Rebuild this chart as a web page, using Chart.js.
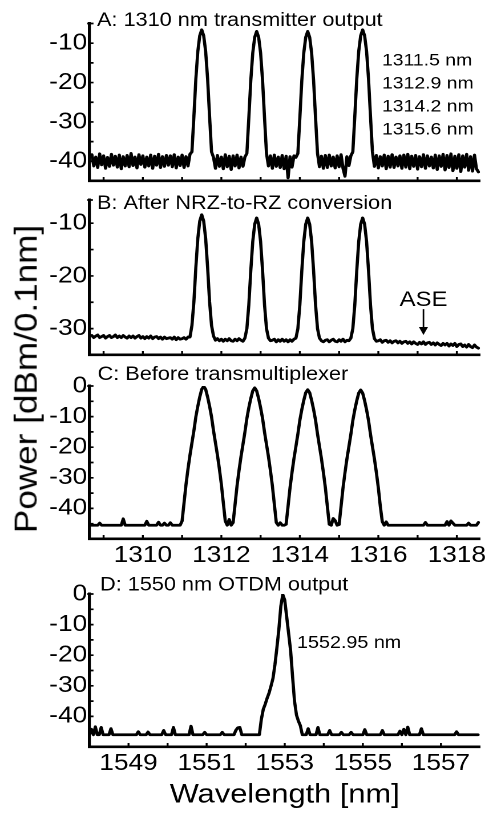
<!DOCTYPE html>
<html>
<head>
<meta charset="utf-8">
<script src="https://cdn.jsdelivr.net/npm/chart.js@4/dist/chart.umd.min.js"></script>
<style>
  html, body { margin: 0; padding: 0; background: #fff; overflow: hidden; }
  #figure {
    position: absolute; left: 0; top: 0; width: 425px; height: 815px;
    transform: scaleX(1.1412); transform-origin: 0 0;
    font-family: 'Liberation Sans', Arial, sans-serif; color: #000;
  }
  .panel { position: absolute; left: 0; width: 425px; }
  #yTitle {
    position: absolute; left: 23.7px; top: 379px; font-size: 27px; white-space: nowrap;
    transform: translate(-50%, -50%) rotate(-90deg) scaleX(1.3);
  }
</style>
</head>
<body>
<div id="figure">
  <div class="panel" style="top:0px;height:189px"><canvas id="panelA"></canvas></div>
  <div class="panel" style="top:180px;height:183px"><canvas id="panelB"></canvas></div>
  <div class="panel" style="top:350px;height:229px"><canvas id="panelC"></canvas></div>
  <div class="panel" style="top:560px;height:255px"><canvas id="panelD"></canvas></div>
  <div id="yTitle">Power [dBm/0.1nm]</div>
</div>
<script>
// ---- Optical spectrum analyser sweeps (0.05 nm sampling) ----
const sweep1310 = { startNm: 1308.70, stepNm: 0.05 };
const sweep1550 = { startNm: 1548.00, stepNm: 0.05 };

// A: 1310 nm transmitter output [dBm/0.1nm], one row per nm
const powerA = [
  -38.3, -41.2, -38.9, -41.6, -38.1, -40.9, -38.6, -41.8, -39.0, -41.3, -38.2, -41.0, -38.7, -41.5, -38.4, -41.9, -38.8, -41.2, -38.5, -41.4,
  -38.0, -41.1, -38.9, -41.7, -38.3, -40.8, -38.6, -41.5, -38.9, -41.2, -38.4, -41.8, -38.7, -41.0, -38.2, -41.6, -38.8, -41.3, -38.5, -41.0,
  -38.6, -41.4, -38.3, -41.7, -38.9, -41.1, -38.4, -41.6, -38.8, -41.2, -38.2, -37.6, -28.6, -19.1, -12.1, -8.1, -6.6, -8.1, -12.1, -19.1,
  -28.6, -37.6, -39.0, -41.8, -38.5, -41.3, -38.9, -41.9, -38.3, -41.4, -38.7, -42.1, -38.6, -41.2, -38.4, -41.7, -38.9, -41.3, -38.9, -38.0,
  -29.0, -19.5, -12.5, -8.5, -7.0, -8.5, -12.5, -19.5, -29.0, -38.0, -41.2, -38.6, -41.8, -38.4, -41.3, -38.9, -41.6, -38.5, -41.9, -38.7,
  -44.2, -38.8, -41.5, -38.6, -39.0, -38.0, -29.0, -19.5, -12.5, -8.5, -7.0, -8.5, -12.5, -19.5, -29.0, -38.0, -41.4, -38.7, -41.8, -38.5,
  -41.6, -38.4, -41.2, -38.9, -41.7, -38.6, -41.4, -38.3, -41.8, -43.8, -38.8, -41.1, -38.6, -37.6, -28.6, -19.1, -12.1, -8.1, -6.6, -8.1,
  -12.1, -19.1, -28.6, -37.6, -41.3, -38.5, -41.7, -38.8, -41.2, -38.4, -41.9, -38.7, -41.5, -38.3, -41.6, -38.9, -41.2, -38.6, -41.8, -38.4,
  -41.5, -38.2, -41.9, -38.7, -41.3, -38.5, -42.0, -38.8, -41.4, -38.3, -41.8, -38.6, -41.2, -38.9, -41.7, -38.4, -42.1, -38.6, -41.3, -38.2,
  -42.2, -38.5, -41.6, -38.1, -42.4, -38.7, -41.8, -38.3, -42.6, -38.6, -41.5, -38.2, -42.3, -38.8, -42.5, -38.4, -41.9, -42.7
];

// B: after NRZ-to-RZ conversion
const powerB = [
  -31.3, -31.7, -31.4, -31.2, -31.7, -31.5, -31.3, -31.8, -31.5, -31.3, -31.7, -31.5, -31.2, -31.7, -31.4, -31.7, -31.3, -31.6, -31.8, -31.4,
  -31.7, -31.4, -31.8, -31.5, -31.3, -31.8, -31.5, -31.9, -31.5, -31.8, -31.4, -31.9, -31.6, -31.5, -31.9, -31.6, -32.0, -31.6, -31.9, -31.8,
  -31.7, -32.0, -31.6, -32.1, -31.7, -32.0, -31.9, -31.7, -32.0, -31.6, -31.6, -29.4, -24.9, -18.4, -12.9, -9.6, -8.4, -9.6, -12.9, -18.4,
  -24.9, -29.4, -31.4, -32.2, -31.9, -32.3, -32.0, -32.4, -32.0, -32.3, -31.9, -32.3, -32.4, -32.0, -32.3, -31.9, -32.2, -32.4, -31.8, -30.0,
  -25.5, -19.0, -13.5, -10.2, -9.0, -10.2, -13.5, -19.0, -25.5, -30.0, -31.8, -32.3, -32.2, -32.0, -32.5, -32.1, -32.4, -32.0, -32.4, -32.1,
  -32.5, -32.1, -32.4, -32.0, -31.8, -30.0, -25.5, -19.0, -13.5, -10.2, -9.0, -10.2, -13.5, -19.0, -25.5, -30.0, -31.8, -32.3, -32.5, -32.2,
  -32.1, -32.5, -32.2, -32.0, -32.4, -32.5, -32.1, -32.4, -32.0, -32.5, -32.2, -32.3, -31.8, -30.0, -25.5, -19.0, -13.5, -10.2, -9.0, -10.2,
  -13.5, -19.0, -25.5, -30.0, -31.9, -32.4, -32.3, -32.1, -32.6, -32.3, -32.2, -32.6, -32.3, -32.7, -32.4, -32.3, -32.7, -32.4, -32.8, -32.5,
  -32.4, -32.8, -32.5, -32.9, -32.5, -32.8, -33.0, -32.6, -32.9, -32.5, -33.0, -32.7, -32.6, -33.0, -32.7, -33.1, -32.7, -33.0, -33.2, -32.8,
  -33.1, -32.8, -33.3, -32.9, -33.2, -32.8, -33.4, -33.0, -32.9, -33.4, -33.1, -33.5, -33.0, -33.4, -33.6, -33.1, -33.5, -33.7
];

// C: before the transmultiplexer
const powerC = [
  -45.5, -45.5, -45.5, -45.5, -44.8, -45.5, -45.5, -45.5, -45.5, -45.5, -45.5, -45.5, -45.5, -45.5, -45.5, -45.5, -43.4, -45.5, -45.5, -45.5,
  -45.5, -45.5, -45.5, -45.5, -45.5, -45.5, -45.5, -45.5, -44.2, -45.5, -45.5, -45.5, -45.5, -45.5, -44.5, -45.5, -45.5, -44.8, -45.5, -45.5,
  -44.7, -45.5, -45.5, -45.5, -45.5, -45.5, -44.1, -38.1, -32.1, -27.1, -22.6, -18.6, -14.6, -10.1, -6.6, -3.6, -1.1, -0.1, -1.1, -3.6,
  -6.6, -10.1, -14.6, -18.6, -22.6, -27.1, -32.1, -38.1, -44.1, -45.5, -43.6, -45.5, -44.6, -38.6, -32.6, -27.6, -23.1, -19.1, -15.1, -10.6,
  -7.1, -4.1, -1.6, -0.6, -1.6, -4.1, -7.1, -10.6, -15.1, -19.1, -23.1, -27.6, -32.6, -38.6, -44.6, -45.5, -44.7, -45.5, -45.5, -45.2,
  -39.2, -33.2, -28.2, -23.7, -19.7, -15.7, -11.2, -7.7, -4.7, -2.2, -1.2, -2.2, -4.7, -7.7, -11.2, -15.7, -19.7, -23.7, -28.2, -33.2,
  -39.2, -45.2, -45.5, -43.3, -44.0, -45.5, -45.3, -39.3, -33.3, -28.3, -23.8, -19.8, -15.8, -11.3, -7.8, -4.8, -2.3, -1.3, -2.3, -4.8,
  -7.8, -11.3, -15.8, -19.8, -23.8, -28.3, -33.3, -39.3, -44.3, -45.5, -44.4, -45.5, -45.5, -45.5, -45.5, -45.5, -45.5, -45.5, -45.5, -45.5,
  -45.5, -45.5, -45.5, -45.5, -45.5, -45.5, -45.5, -45.5, -45.5, -45.5, -44.6, -45.5, -45.5, -45.5, -45.5, -45.5, -45.5, -45.5, -45.5, -45.5,
  -45.5, -44.3, -45.5, -44.1, -44.8, -45.5, -45.5, -45.5, -45.5, -45.5, -45.5, -45.5, -44.8, -45.5, -45.5, -45.5, -45.5, -44.6
];

// D: 1550 nm OTDM output
const powerD = [
  -46.0, -44.2, -46.0, -43.4, -46.0, -46.0, -43.6, -46.0, -46.0, -46.0, -46.0, -44.0, -46.0, -46.0, -46.0, -46.0, -46.0, -46.0, -46.0, -46.0,
  -46.0, -46.0, -46.0, -46.0, -46.0, -45.0, -46.0, -46.0, -46.0, -46.0, -45.1, -46.0, -46.0, -46.0, -46.0, -46.0, -46.0, -46.0, -44.6, -46.0,
  -46.0, -46.0, -46.0, -43.6, -46.0, -46.0, -46.0, -46.0, -46.0, -46.0, -46.0, -46.0, -43.2, -46.0, -46.0, -46.0, -46.0, -46.0, -46.0, -45.2,
  -46.0, -46.0, -46.0, -46.0, -46.0, -46.0, -46.0, -46.0, -45.2, -46.0, -46.0, -46.0, -46.0, -46.0, -46.0, -44.5, -43.7, -43.6, -46.0, -46.0,
  -46.0, -46.0, -46.0, -46.0, -46.0, -46.0, -46.0, -46.0, -41.0, -37.7, -36.0, -34.0, -32.3, -30.0, -27.5, -23.0, -17.5, -11.5, -4.0, -0.2,
  -2.0, -7.5, -13.0, -18.5, -27.0, -35.0, -39.5, -41.5, -43.0, -46.0, -46.0, -46.0, -44.0, -46.0, -46.0, -46.0, -46.0, -43.6, -46.0, -46.0,
  -46.0, -46.0, -46.0, -44.6, -46.0, -46.0, -46.0, -46.0, -46.0, -45.2, -46.0, -46.0, -46.0, -46.0, -45.2, -46.0, -46.0, -46.0, -46.0, -46.0,
  -46.0, -44.3, -46.0, -46.0, -46.0, -46.0, -46.0, -46.0, -46.0, -46.0, -44.6, -46.0, -46.0, -46.0, -46.0, -46.0, -46.0, -46.0, -46.0, -44.8,
  -46.0, -44.2, -46.0, -43.5, -46.0, -46.0, -46.0, -46.0, -46.0, -46.0, -44.0, -46.0, -46.0, -46.0, -46.0, -46.0, -46.0, -46.0, -46.0, -46.0,
  -46.0, -46.0, -46.0, -46.0, -46.0, -46.0, -46.0, -46.0, -45.0, -46.0, -46.0, -46.0, -46.0, -46.0, -46.0, -46.0, -46.0, -46.0, -46.0, -46.0
];

// Channel wavelengths written next to trace A, and the 1550 nm line in D
const channelLabelsA = ['1311.5 nm', '1312.9 nm', '1314.2 nm', '1315.6 nm'];
const otdmLabel = '1552.95 nm';
const aseMarkerNm = 1317.15;

const FONT = "'Liberation Sans', Arial, sans-serif";
Chart.defaults.font.family = FONT;
Chart.defaults.color = '#000';

function trace(sweep, power) {
  return power.map((p, i) => ({ x: +(sweep.startNm + i * sweep.stepNm).toFixed(2), y: p }));
}

// Inward tick marks, panel captions and annotations
function marksPlugin(extra) {
  return {
    id: 'panelMarks',
    afterDraw(chart) {
      const { ctx, chartArea: a } = chart;
      const xs = chart.scales.x, ys = chart.scales.y;
      ctx.save();
      ctx.strokeStyle = '#000';
      ctx.lineWidth = 1.7;
      ctx.beginPath();
      for (let v = Math.ceil(xs.min); v <= xs.max; v++) {
        const px = xs.getPixelForValue(v);
        if (px < a.left + 3 || px > a.right - 2) continue;
        ctx.moveTo(px, a.bottom); ctx.lineTo(px, a.bottom - 4);
      }
      for (let v = Math.ceil(ys.min / 5) * 5; v <= ys.max + 1e-9; v += 5) {
        const py = ys.getPixelForValue(v);
        if (py > a.bottom - 3) continue;
        ctx.moveTo(a.left, py); ctx.lineTo(a.left + 3.5, py);
      }
      ctx.moveTo(a.left - 2, a.top); ctx.lineTo(a.left + 3, a.top);
      ctx.stroke();

      ctx.fillStyle = '#000';
      (extra.texts || []).forEach(t => {
        ctx.font = t.size + 'px ' + FONT;
        ctx.textAlign = t.align || 'left';
        ctx.textBaseline = t.baseline || 'alphabetic';
        ctx.fillText(t.text, t.x, t.y);
      });

      if (extra.arrow) {
        const ar = extra.arrow;
        const px = xs.getPixelForValue(ar.nm);
        const tip = ys.getPixelForValue(ar.tipDb);
        const tail = ys.getPixelForValue(ar.tailDb);
        ctx.lineWidth = 1.4;
        ctx.beginPath(); ctx.moveTo(px, tail); ctx.lineTo(px, tip - 6); ctx.stroke();
        ctx.beginPath(); ctx.moveTo(px, tip); ctx.lineTo(px - 4, tip - 8); ctx.lineTo(px + 4, tip - 8); ctx.closePath(); ctx.fill();
        ctx.font = '21px ' + FONT;
        ctx.textAlign = 'center'; ctx.textBaseline = 'middle';
        ctx.fillText(ar.text, px, ys.getPixelForValue(ar.labelDb));
      }
      ctx.restore();
    }
  };
}

// Axis boxes keep exactly the size given, without extra room for edge labels
function fixBox(s, size) {
  if (s.isHorizontal()) s.height = size; else s.width = size;
  s.paddingTop = 0; s.paddingBottom = 0; s.paddingLeft = 0; s.paddingRight = 0;
}

function makePanel(id, p) {
  const isLabel = v => Math.abs(v - Math.round(v)) < 1e-6 && Math.abs(Math.round(v) % 2) === p.labelParity;
  return new Chart(document.getElementById(id), {
    type: 'line',
    data: {
      datasets: [{
        data: trace(p.sweep, p.power),
        borderColor: '#000', borderWidth: 2.8, pointRadius: 0, tension: 0,
        borderJoinStyle: 'round', borderCapStyle: 'round'
      }]
    },
    options: {
      responsive: true, maintainAspectRatio: false, animation: false, devicePixelRatio: 2,
      layout: { padding: { top: p.padTop, right: 4.4, left: 0, bottom: 0 } },
      plugins: { legend: { display: false }, tooltip: { enabled: false } },
      scales: {
        x: {
          type: 'linear', min: p.xMin, max: p.xMax,
          afterFit: s => fixBox(s, p.xAxisHeight),
          grid: { display: false, drawTicks: false },
          border: { display: true, color: '#000', width: 2.6 },
          ticks: {
            display: p.showXLabels, stepSize: 1, includeBounds: false, autoSkip: false, maxRotation: 0,
            padding: 3, font: { size: 23 }, color: '#000',
            callback: v => isLabel(v) ? String(Math.round(v)) : ''
          },
          title: p.xTitle ? {
            display: true, text: p.xTitle, color: '#000',
            font: { size: 27 }, padding: { top: 0, bottom: 4 }
          } : { display: false }
        },
        y: {
          min: p.yMin, max: p.yMax,
          afterFit: s => fixBox(s, 78.4),
          grid: { display: false, drawTicks: false },
          border: { display: true, color: '#000', width: 2.6 },
          ticks: {
            stepSize: 5, includeBounds: false, autoSkip: false, padding: 2, font: { size: 23 }, color: '#000',
            callback: v => (Math.abs(v % 10) < 1e-9 && v > p.yMin + 1e-9 ? String(v) : '')
          }
        }
      }
    },
    plugins: [marksPlugin(p.marks)]
  });
}

makePanel('panelA', {
  sweep: sweep1310, power: powerA, xMin: 1308.64, xMax: 1318.59, yMin: -45, yMax: -5,
  padTop: 23.5, xAxisHeight: 8, showXLabels: false, labelParity: 0,
  marks: {
    texts: [
      { text: 'A: 1310 nm transmitter output', x: 85, y: 26, size: 19 },
      { text: channelLabelsA[0], x: 334.7, y: 61, size: 17, baseline: 'middle' },
      { text: channelLabelsA[1], x: 334.7, y: 84, size: 17, baseline: 'middle' },
      { text: channelLabelsA[2], x: 334.7, y: 107, size: 17, baseline: 'middle' },
      { text: channelLabelsA[3], x: 334.7, y: 130, size: 17, baseline: 'middle' }
    ]
  }
});

makePanel('panelB', {
  sweep: sweep1310, power: powerB, xMin: 1308.64, xMax: 1318.59, yMin: -35, yMax: -5.6,
  padTop: 20, xAxisHeight: 8, showXLabels: false, labelParity: 0,
  marks: {
    texts: [{ text: 'B: After NRZ-to-RZ conversion', x: 85, y: 29, size: 19 }],
    arrow: { nm: aseMarkerNm, tipDb: -31.2, tailDb: -26.3, labelDb: -24.6, text: 'ASE' }
  }
});

makePanel('panelC', {
  sweep: sweep1310, power: powerC, xMin: 1308.64, xMax: 1318.59, yMin: -50, yMax: 0,
  padTop: 36, xAxisHeight: 40, showXLabels: true, labelParity: 0,
  marks: {
    texts: [{ text: 'C: Before transmultiplexer', x: 85.5, y: 30, size: 19 }]
  }
});

makePanel('panelD', {
  sweep: sweep1550, power: powerD, xMin: 1548, xMax: 1558, yMin: -50, yMax: 0,
  padTop: 34, xAxisHeight: 68, showXLabels: true, labelParity: 1, xTitle: 'Wavelength [nm]',
  marks: {
    texts: [
      { text: 'D: 1550 nm OTDM output', x: 87.6, y: 30.5, size: 19 },
      { text: otdmLabel, x: 260.3, y: 83, size: 17.3, baseline: 'middle' }
    ]
  }
});
</script>
</body>
</html>
